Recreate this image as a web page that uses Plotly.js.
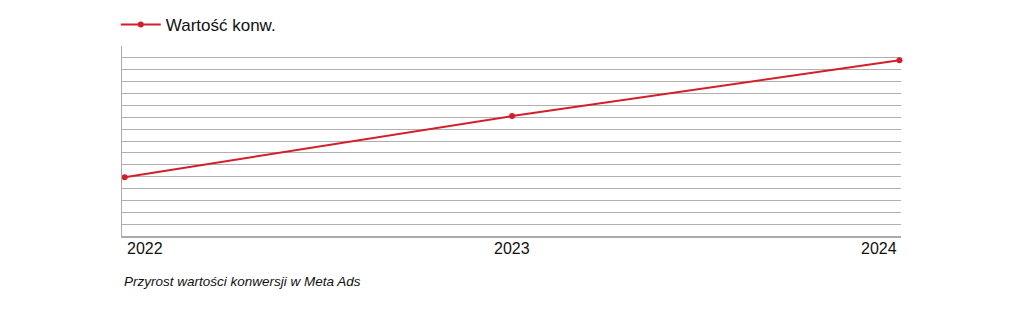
<!DOCTYPE html>
<html><head><meta charset="utf-8">
<script src="https://cdn.plot.ly/plotly-3.0.1.min.js"></script>
<style>html,body{margin:0;padding:0;background:#fff;}#chart{width:1024px;height:313px;}</style>
</head><body><div id="chart"></div>
<script>
const years = [2022, 2023, 2024];
const tickLabels = ['2022', '2023', '2024'];
const values = [4.95, 10.1, 14.8];
const seriesName = 'Wartość konw.';
const caption = 'Przyrost wartości konwersji w Meta Ads';

const red = '#d21f2b';
const trace = {
  x: years, y: values, type: 'scatter', mode: 'lines+markers', name: seriesName,
  line: {color: red, width: 2}, marker: {color: red, size: 6}, cliponaxis: false
};
const anchors = ['left', 'center', 'right'];
const annotations = years.map((yr, i) => ({
  x: yr, xref: 'x', y: 0, yref: 'paper', yanchor: 'top', xanchor: anchors[i],
  yshift: -2, text: tickLabels[i], showarrow: false,
  font: {family: 'Liberation Sans, Arial, sans-serif', size: 16, color: '#111'}
}));
annotations.push({
  x: 0, xref: 'paper', y: 0, yref: 'paper', xanchor: 'left', yanchor: 'top', yshift: -36,
  text: '<i>' + caption + '</i>', showarrow: false,
  font: {family: 'Liberation Sans, Arial, sans-serif', size: 13.5, color: '#111'}
});
const layout = {
  width: 1024, height: 313,
  margin: {l: 122, r: 123, t: 46, b: 77},
  paper_bgcolor: '#fff', plot_bgcolor: '#fff',
  showlegend: true,
  legend: {x: -0.008, xref: 'paper', xanchor: 'left', y: 0.92, yref: 'container', yanchor: 'middle', orientation: 'h',
    itemwidth: 40,
    font: {family: 'Liberation Sans, Arial, sans-serif', size: 17, color: '#111'}, bgcolor: 'rgba(0,0,0,0)'},
  xaxis: {range: [2021.993, 2024.004], showticklabels: false, ticks: '', showgrid: false, zeroline: false,
    showline: true, linecolor: '#aaa', linewidth: 2, fixedrange: true},
  yaxis: {range: [0, 16], dtick: 1, tick0: 0, showticklabels: false, ticks: '', showgrid: true,
    gridcolor: '#b0b0b0', gridwidth: 1, zeroline: false, showline: true, linecolor: '#aaa', linewidth: 1, fixedrange: true},
  annotations: annotations
};
Plotly.newPlot('chart', [trace], layout, {displayModeBar: false, staticPlot: true});
</script></body></html>
